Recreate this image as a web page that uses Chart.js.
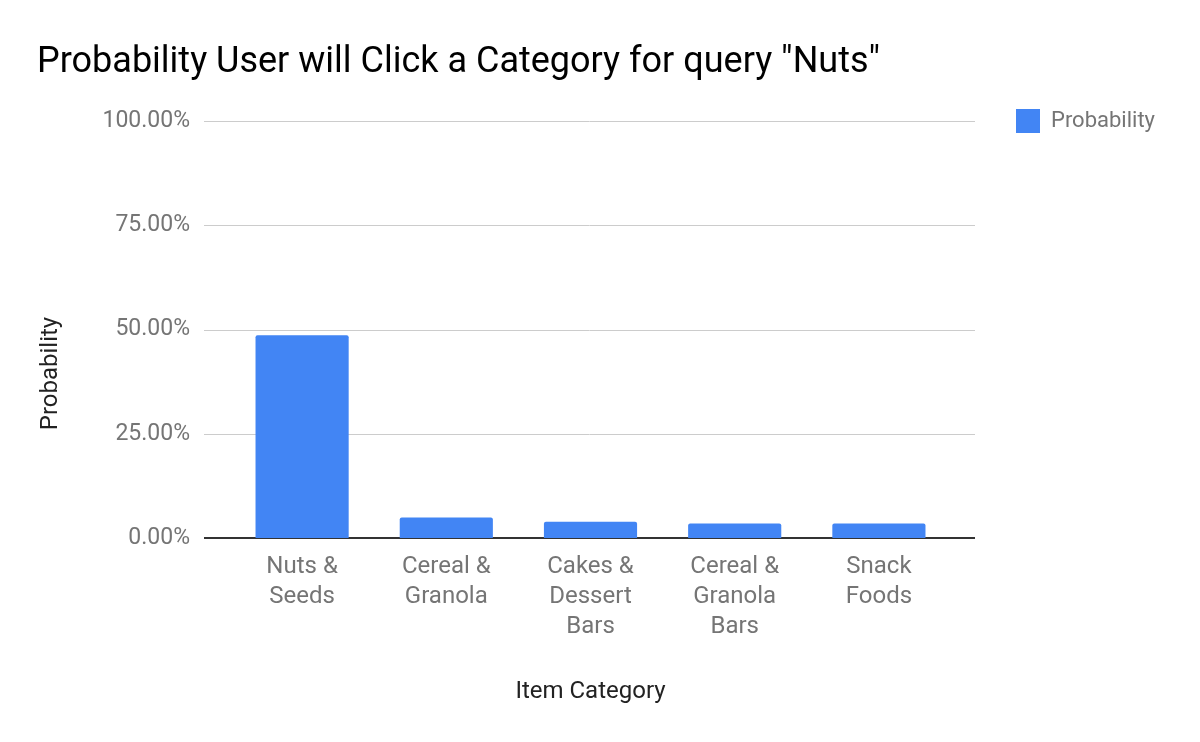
<!DOCTYPE html>
<html lang="en">
<head>
    <meta charset="UTF-8">
    <title>Probability User will Click a Category</title>
    <script src="https://cdn.jsdelivr.net/npm/chart.js"></script>
    <style>
        body { margin: 0; background: #fff; }
        #wrap { width: 1200px; height: 742px; }
    </style>
</head>
<body>
    <div id="wrap"><canvas id="chart"></canvas></div>
    <script>
        // data
        const categories = [
            ['Nuts &', 'Seeds'],
            ['Cereal &', 'Granola'],
            ['Cakes &', 'Dessert', 'Bars'],
            ['Cereal &', 'Granola', 'Bars'],
            ['Snack', 'Foods']
        ];
        const probability = [0.486, 0.049, 0.039, 0.035, 0.035];
        const yTicks = [0, 0.25, 0.5, 0.75, 1];

        const FONT = 'Roboto';

        // grid lines run a bit wider than the bars, like the google chart
        const gridPlugin = {
            id: 'wideGrid',
            beforeDatasetsDraw(chart) {
                const ctx = chart.ctx;
                const y = chart.scales.y;
                const area = chart.chartArea;
                ctx.save();
                yTicks.forEach(v => {
                    const py = Math.round(y.getPixelForValue(v));
                    ctx.beginPath();
                    ctx.strokeStyle = v === 0 ? '#333333' : '#cccccc';
                    ctx.lineWidth = v === 0 ? 2 : 1;
                    const off = v === 0 ? 0 : 0.5;
                    ctx.moveTo(area.left - 26, py + off);
                    ctx.lineTo(area.right + 24, py + off);
                    ctx.stroke();
                });
                ctx.restore();
            },
            afterLayout(chart) {
                // lift the legend so its box sits on the 100% line
                const L = chart.legend;
                L.top -= 22;
                L.bottom -= 22;
                // the y title is centred on the whole picture, not the plot
                const y = chart.scales.y;
                y.top += 44;
                y.bottom += 44;
            }
        };

        new Chart(document.getElementById('chart'), {
            type: 'bar',
            data: {
                labels: categories,
                datasets: [{
                    label: 'Probability',
                    data: probability,
                    backgroundColor: '#4285f4',
                    borderRadius: 2,
                    borderSkipped: 'bottom',
                    barPercentage: 0.646,
                    categoryPercentage: 1
                }]
            },
            plugins: [gridPlugin],
            options: {
                responsive: true,
                maintainAspectRatio: false,
                animation: false,
                layout: { padding: { left: 37, right: 35, top: 0, bottom: 0 } },
                plugins: {
                    title: {
                        display: true,
                        text: 'Probability User will Click a Category for query "Nuts"',
                        align: 'start',
                        color: '#000000',
                        font: { family: FONT, size: 36, weight: 'normal' },
                        padding: { top: 41.6, bottom: 36.2 }
                    },
                    legend: {
                        position: 'right',
                        align: 'start',
                        fullSize: false,
                        labels: {
                            boxWidth: 24,
                            boxHeight: 24,
                            padding: 10,
                            color: '#757575',
                            font: { family: FONT, size: 22 }
                        }
                    },
                    tooltip: { enabled: false }
                },
                scales: {
                    x: {
                        grid: { display: false, drawTicks: false },
                        border: { display: false },
                        ticks: {
                            color: '#757575',
                            font: { family: FONT, size: 24, lineHeight: 1.25 },
                            padding: 14,
                            maxRotation: 0,
                            autoSkip: false
                        },
                        title: {
                            display: true,
                            text: 'Item Category',
                            color: '#222222',
                            font: { family: FONT, size: 24 },
                            padding: { top: 21.6, bottom: 35.6 }
                        }
                    },
                    y: {
                        min: 0,
                        max: 1,
                        afterBuildTicks(scale) {
                            scale.ticks = yTicks.map(v => ({ value: v }));
                        },
                        afterFit(scale) {
                            scale.width = 193;
                        },
                        grid: { display: false, drawTicks: false },
                        border: { display: false },
                        ticks: {
                            color: '#757575',
                            font: { family: FONT, size: 23 },
                            padding: 40,
                            callback: v => (v * 100).toFixed(2) + '%'
                        },
                        title: {
                            display: true,
                            text: 'Probability',
                            color: '#222222',
                            font: { family: FONT, size: 24 },
                            padding: { top: 0, bottom: 0 }
                        }
                    },
                    // empty strip between the plot and the legend
                    gap: {
                        type: 'linear',
                        position: 'right',
                        afterFit(scale) {
                            scale.width = 55;
                        },
                        grid: { display: false, drawTicks: false },
                        border: { display: false },
                        ticks: { display: false }
                    }
                }
            }
        });
    </script>
</body>
</html>
